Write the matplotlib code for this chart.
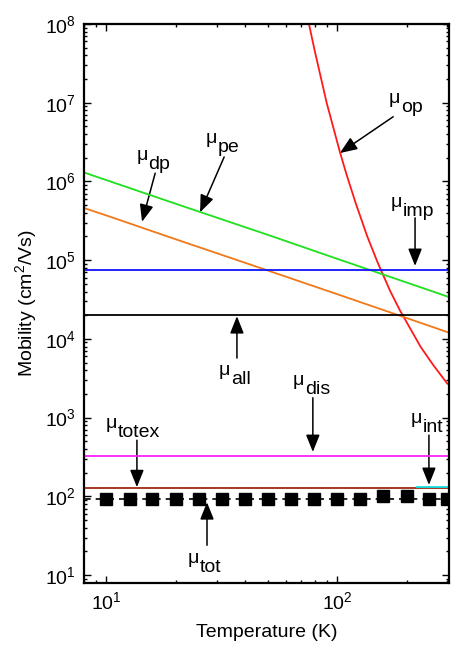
import numpy as np
import matplotlib
matplotlib.use("Agg")
import matplotlib.pyplot as plt
from matplotlib.ticker import FixedLocator, NullFormatter, LogFormatterSciNotation
from matplotlib.patches import FancyArrowPatch

plt.rcParams['font.family'] = ['Liberation Sans', 'DejaVu Sans']
plt.rcParams['mathtext.fontset'] = 'custom'
plt.rcParams['mathtext.rm'] = 'Liberation Sans'
plt.rcParams['mathtext.it'] = 'Liberation Sans'
plt.rcParams['mathtext.bf'] = 'Liberation Sans'

# ---- data ----
T_lin = [8, 10, 20, 50, 100, 200, 305]
mu_pe = [1.3e6, 1.04e6, 5.2e5, 2.1e5, 1.04e5, 5.2e4, 3.4e4]
mu_dp = [4.6e5, 3.7e5, 1.84e5, 7.4e4, 3.7e4, 1.84e4, 1.2e4]

T_op = [74, 80, 90, 103, 110, 120, 135, 150, 170, 187, 230, 260, 300]
mu_op = [1.3e8, 4.5e7, 1.0e7, 2.3e6, 1.2e6, 5.4e5, 2.0e5, 9.2e4, 4.0e4, 2.3e4, 7.9e3, 4.7e3, 2.7e3]

T_const = [8, 305]
mu_imp = [7.6e4, 7.6e4]
mu_all = [2.0e4, 2.0e4]
mu_dis = [330, 330]
mu_totex = [127, 127]
mu_tot_line = [92, 92]

T_int = [222, 305]
mu_int = [131, 131]

T_tot = [10, 12.6, 15.8, 20, 25.1, 31.6, 39.8, 50.1, 63.1, 79.4, 100, 126, 158, 200, 251, 300]
mu_tot = [92, 92, 92, 92, 92, 92, 92, 92, 92, 92, 92, 92, 100, 101, 92, 92]

x_major = [10, 100]
x_minor = [8, 9, 20, 30, 40, 50, 60, 70, 80, 90, 200, 300]
y_major = [1e1, 1e2, 1e3, 1e4, 1e5, 1e6, 1e7, 1e8]
y_minor = [m * d for d in [1, 10, 1e2, 1e3, 1e4, 1e5, 1e6, 1e7] for m in range(2, 10) if m * d > 8]

# labels: (subscript, anchor(fx,fy), arrow tail, arrow tip) in axes fraction
labels = [
    ('op',    (0.866, 0.859), (0.847, 0.834), (0.701, 0.769)),
    ('pe',    (0.364, 0.787), (0.384, 0.762), (0.318, 0.663)),
    ('dp',    (0.175, 0.756), (0.195, 0.733), (0.159, 0.646)),
    ('imp',   (0.871, 0.673), (0.907, 0.653), (0.907, 0.567)),
    ('all',   (0.400, 0.372), (0.419, 0.402), (0.419, 0.477)),
    ('dis',   (0.603, 0.354), (0.627, 0.331), (0.627, 0.234)),
    ('totex', (0.090, 0.277), (0.145, 0.255), (0.145, 0.171)),
    ('int',   (0.926, 0.286), (0.945, 0.264), (0.945, 0.175)),
    ('tot',   (0.315, 0.035), (0.337, 0.067), (0.337, 0.144)),
]

fig = plt.figure(figsize=(4.51, 6.51), dpi=100)
ax = fig.add_axes([84/451, 1-582.7/651, 365/451, 558.7/651])

lw = 1.3
ax.plot(T_op, mu_op, color='#ff1a1a', lw=lw)
ax.plot(T_lin, mu_pe, color='#1ee01e', lw=lw)
ax.plot(T_lin, mu_dp, color='#f07818', lw=lw)
ax.plot(T_const, mu_imp, color='#1010ff', lw=lw)
ax.plot(T_const, mu_all, color='black', lw=lw)
ax.plot(T_const, mu_dis, color='#ff20ff', lw=lw)
ax.plot(T_const, mu_totex, color='#a02a10', lw=lw)
ax.plot(T_int, mu_int, color='#10e0e0', lw=lw)
ax.plot(T_const, mu_tot_line, color='black', lw=1.2, ls=(0, (4, 3)))
ax.plot(T_tot, mu_tot, ls='none', marker='s', ms=8.5, color='black')

ax.set_xscale('log')
ax.set_yscale('log')
ax.set_xlim(8, 305)
ax.set_ylim(8, 1e8)

ax.xaxis.set_major_locator(FixedLocator(x_major))
ax.xaxis.set_major_formatter(LogFormatterSciNotation())
ax.xaxis.set_minor_locator(FixedLocator(x_minor))
ax.xaxis.set_minor_formatter(NullFormatter())
ax.yaxis.set_major_locator(FixedLocator(y_major))
ax.yaxis.set_major_formatter(LogFormatterSciNotation())
ax.yaxis.set_minor_locator(FixedLocator(y_minor))
ax.yaxis.set_minor_formatter(NullFormatter())

ax.tick_params(which='both', direction='in', top=True, right=True, labelsize=14, width=1)
ax.tick_params(which='major', length=5, pad=6)
ax.tick_params(which='minor', length=2.5)
for s in ax.spines.values():
    s.set_linewidth(1.6)

ax.set_xlabel('Temperature (K)', fontsize=14, labelpad=8)
ax.set_ylabel('Mobility (cm$^2$/Vs)', fontsize=14, labelpad=4)

for sub, anc, tail, tip in labels:
    ax.text(anc[0], anc[1], 'μ', transform=ax.transAxes, ha='right', va='baseline', fontsize=14)
    ax.annotate(sub, xy=anc, xycoords='axes fraction', xytext=(0.5, -6.5), textcoords='offset points',
                ha='left', va='baseline', fontsize=14)
    ax.add_patch(FancyArrowPatch(tail, tip, transform=ax.transAxes,
                                 arrowstyle='-|>,head_length=0.75,head_width=0.3',
                                 color='black', lw=1.1, shrinkA=0, shrinkB=0,
                                 mutation_scale=14))

fig.savefig('out.png', dpi=100)
